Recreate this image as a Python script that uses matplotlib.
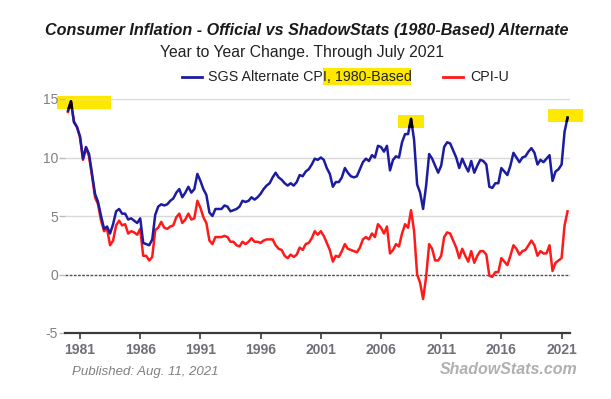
import matplotlib
matplotlib.use("Agg")
import matplotlib.pyplot as plt
import matplotlib.dates as mdates
from matplotlib.patches import Rectangle
from matplotlib.lines import Line2D
import pandas as pd

# quarterly readings (Jan, Apr, Jul, Oct), Jan 1980 .. Jul 2021
sgs_alt = [
    14.0, 14.8, 13.0, 12.6,   # 1980
    11.8, 9.9, 10.9, 10.3,    # 1981
    8.6, 6.9, 6.2, 5.0,       # 1982
    3.9, 4.1, 3.5, 4.3,       # 1983
    5.4, 5.6, 5.2, 5.2,       # 1984
    4.7, 4.8, 4.6, 4.4,       # 1985
    4.8, 2.7, 2.6, 2.5,       # 1986
    3.0, 5.1, 5.8, 6.0,       # 1987
    5.9, 6.0, 6.3, 6.5,       # 1988
    7.0, 7.3, 6.6, 7.0,       # 1989
    7.5, 7.0, 7.3, 8.6,       # 1990
    8.0, 7.3, 6.8, 5.3,       # 1991
    5.0, 5.6, 5.6, 5.6,       # 1992
    5.9, 5.8, 5.4, 5.5,       # 1993
    5.6, 5.8, 6.3, 6.2,       # 1994
    6.3, 6.6, 6.4, 6.6,       # 1995
    6.9, 7.3, 7.6, 7.8,       # 1996
    8.3, 8.7, 8.3, 8.1,       # 1997
    7.8, 7.6, 7.8, 7.6,       # 1998
    7.9, 8.5, 8.4, 8.8,       # 1999
    9.0, 9.4, 9.9, 9.8,       # 2000
    10.0, 9.8, 9.1, 8.6,      # 2001
    7.5, 7.9, 7.9, 8.3,       # 2002
    9.1, 8.7, 8.4, 8.3,       # 2003
    8.4, 9.0, 9.6, 9.9,       # 2004
    9.7, 10.2, 10.0, 11.0,    # 2005
    10.9, 10.5, 11.0, 8.9,    # 2006
    9.8, 10.1, 10.0, 11.3,    # 2007
    12.0, 12.0, 13.3, 11.5,   # 2008
    7.7, 7.0, 5.6, 7.6,       # 2009
    10.3, 9.9, 9.3, 8.7,      # 2010
    9.3, 10.9, 11.3, 11.2,    # 2011
    10.6, 10.0, 9.1, 9.9,     # 2012
    9.3, 8.8, 9.7, 8.7,       # 2013
    9.3, 9.8, 9.7, 9.4,       # 2014
    7.5, 7.4, 7.8, 7.8,       # 2015
    9.1, 8.8, 8.5, 9.3,       # 2016
    10.4, 10.0, 9.6, 10.0,    # 2017
    10.1, 10.5, 10.8, 10.4,   # 2018
    9.4, 9.8, 9.6, 9.9,       # 2019
    10.2, 8.0, 8.8, 9.0,      # 2020
    9.4, 12.2, 13.4,          # 2021
]

cpi_u = [
    13.9, 14.7, 13.1, 12.6,   # 1980
    11.7, 9.8, 10.8, 10.1,    # 1981
    8.4, 6.6, 6.0, 4.6,       # 1982
    3.7, 3.9, 2.5, 2.9,       # 1983
    4.2, 4.6, 4.2, 4.3,       # 1984
    3.5, 3.7, 3.6, 3.4,       # 1985
    3.9, 1.6, 1.6, 1.2,       # 1986
    1.5, 3.8, 4.0, 4.5,       # 1987
    4.0, 3.9, 4.1, 4.2,       # 1988
    4.9, 5.2, 4.4, 4.7,       # 1989
    5.2, 4.7, 4.8, 6.3,       # 1990
    5.7, 4.9, 4.4, 2.9,       # 1991
    2.6, 3.2, 3.2, 3.2,       # 1992
    3.3, 3.2, 2.8, 2.8,       # 1993
    2.5, 2.4, 2.8, 2.6,       # 1994
    2.8, 3.1, 2.8, 2.8,       # 1995
    2.7, 2.9, 3.0, 3.0,       # 1996
    3.0, 2.5, 2.2, 2.1,       # 1997
    1.6, 1.4, 1.7, 1.5,       # 1998
    1.7, 2.3, 2.1, 2.6,       # 1999
    2.7, 3.1, 3.7, 3.4,       # 2000
    3.7, 3.3, 2.7, 2.1,       # 2001
    1.1, 1.6, 1.5, 2.0,       # 2002
    2.6, 2.2, 2.1, 2.0,       # 2003
    1.9, 2.3, 3.0, 3.2,       # 2004
    3.0, 3.5, 3.2, 4.3,       # 2005
    4.0, 3.5, 4.1, 1.8,       # 2006
    2.1, 2.6, 2.4, 3.5,       # 2007
    4.3, 4.0, 5.5, 3.7,       # 2008
    0.0, -0.7, -2.1, -0.2,    # 2009
    2.6, 2.2, 1.2, 1.2,       # 2010
    1.6, 3.2, 3.6, 3.5,       # 2011
    2.9, 2.3, 1.4, 2.2,       # 2012
    1.6, 1.1, 2.0, 1.0,       # 2013
    1.6, 2.0, 2.0, 1.7,       # 2014
    -0.1, -0.2, 0.2, 0.2,     # 2015
    1.4, 1.1, 0.8, 1.6,       # 2016
    2.5, 2.2, 1.7, 2.0,       # 2017
    2.1, 2.5, 2.9, 2.5,       # 2018
    1.6, 2.0, 1.8, 1.8,       # 2019
    2.5, 0.3, 1.0, 1.2,       # 2020
    1.4, 4.2, 5.4,            # 2021
]

dates = pd.date_range("1980-01-01", "2021-07-01", freq="QS")
tick_years = [1981, 1986, 1991, 1996, 2001, 2006, 2011, 2016, 2021]
y_ticks = [-5, 0, 5, 10, 15]

BLUE = "#1c1ca0"
RED = "#ff1a1a"
YELLOW = "#ffe800"
W, H = 611, 399

fig = plt.figure(figsize=(W / 100, H / 100), dpi=100)
ax = fig.add_axes([65 / W, 1 - 333 / H, 505 / W, 234 / H])
ax.set_facecolor("none")


def px_rect(x0, y0, x1, y1, **kw):
    # rectangle given in picture pixels (top-left origin)
    return Rectangle((x0 / W, 1 - y1 / H), (x1 - x0) / W, (y1 - y0) / H,
                     transform=fig.transFigure, **kw)


for yv in [5, 10, 15]:
    ax.axhline(yv, color="#d9d9d9", lw=1, zorder=0)
ax.axhline(0, color="#505050", lw=1, ls=(0, (2, 1)), zorder=1)

ax.plot(dates, cpi_u, color=RED, lw=1.8, zorder=3)
ax.plot(dates, sgs_alt, color=BLUE, lw=1.8, zorder=4)

# yellow highlight boxes sit behind the axes; blue line turns black over them
boxes = [(57, 96, 111, 109), (398, 115, 424, 128), (548, 109, 583, 122)]
for b in boxes:
    fig.patches.append(px_rect(*b, facecolor=YELLOW, edgecolor="none", zorder=-1))
    clip = px_rect(*b, facecolor="none", edgecolor="none")
    ln, = ax.plot(dates, sgs_alt, color="black", lw=1.8, zorder=5)
    ln.set_clip_path(clip)

ax.set_xlim(mdates.date2num(pd.Timestamp("1979-10-03")),
            mdates.date2num(pd.Timestamp("2021-09-13")))
ax.set_ylim(-5, 15)
ax.set_xticks([mdates.date2num(pd.Timestamp(f"{y}-01-01")) for y in tick_years])
ax.set_xticklabels([str(y) for y in tick_years],
                   fontdict=dict(family="Liberation Sans", weight="bold",
                                 size=10, color="#6f6f78"))
ax.set_yticks(y_ticks)
ax.set_yticklabels([str(v) for v in y_ticks],
                   fontdict=dict(family="Liberation Sans", size=10, color="#808080"))
for s in ["top", "right", "left"]:
    ax.spines[s].set_visible(False)
ax.spines["bottom"].set_color("#3a3a3a")
ax.spines["bottom"].set_linewidth(1.6)
ax.tick_params(axis="x", length=4, width=1.2, color="#3a3a3a", pad=3)
ax.tick_params(axis="y", length=4, width=1, color="#bbbbbb", pad=1)

fig.text(307 / W, 1 - 31 / H,
         "Consumer Inflation - Official vs ShadowStats (1980-Based) Alternate",
         ha="center", va="center", family="Liberation Sans",
         weight="bold", style="italic", size=11.6, color="#1a1a1a")
fig.text(302 / W, 1 - 52 / H, "Year to Year Change. Through July 2021",
         ha="center", va="center", family="Liberation Sans", size=11.3, color="#222222")

# legend
fig.patches.append(px_rect(323, 68, 411, 85, facecolor=YELLOW, edgecolor="none", zorder=-1))
fig.lines.append(Line2D([182 / W, 202 / W], [1 - 77 / H] * 2, color=BLUE, lw=2,
                        transform=fig.transFigure))
fig.text(208 / W, 1 - 77 / H, "SGS Alternate CPI, 1980-Based", ha="left", va="center",
         family="Liberation Sans", size=10.3, color="#222222")
fig.lines.append(Line2D([443 / W, 463 / W], [1 - 77 / H] * 2, color=RED, lw=2,
                        transform=fig.transFigure))
fig.text(470 / W, 1 - 77 / H, "CPI-U", ha="left", va="center",
         family="Liberation Sans", size=10.3, color="#222222")

fig.text(72 / W, 1 - 372 / H, "Published: Aug. 11, 2021", ha="left", va="center",
         family="Liberation Sans", style="italic", size=9.5, color="#808080")
fig.text(578 / W, 1 - 369 / H, "ShadowStats.com", ha="right", va="center",
         family="Liberation Sans", weight="bold", style="italic", size=11.5, color="#b0b0b0")

fig.savefig("out.png", dpi=100)
